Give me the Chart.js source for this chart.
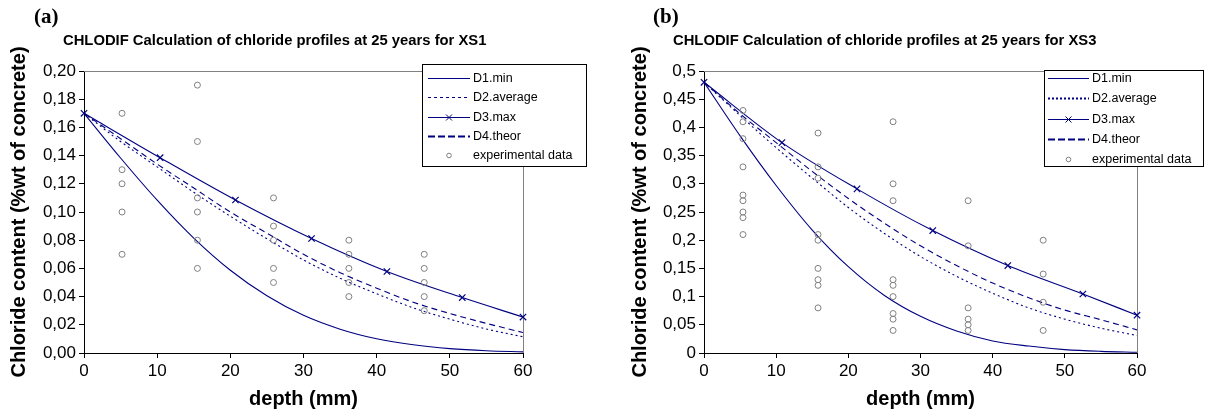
<!DOCTYPE html>
<html><head><meta charset="utf-8">
<script src="https://cdn.jsdelivr.net/npm/chart.js@4.4.1/dist/chart.umd.min.js"></script>
<style>
html,body{margin:0;padding:0;background:#fff}
body{width:1205px;height:411px;overflow:hidden;position:relative;font-family:"Liberation Sans",Arial,sans-serif}
canvas{position:absolute;top:0}
.lab{position:absolute;font-family:"Liberation Serif","Times New Roman",serif;font-weight:bold;font-size:21px;line-height:21px;color:#000}
.ttl{position:absolute;font-weight:bold;font-size:14.8px;line-height:16px;white-space:nowrap;color:#000}
</style></head><body>
<canvas id="ca" width="600" height="411" style="left:0"></canvas>
<canvas id="cb" width="605" height="411" style="left:600px"></canvas>
<div class="lab" style="left:34px;top:6px">(a)</div>
<div class="lab" style="left:653px;top:6px">(b)</div>
<div class="ttl" style="left:63px;top:32px">CHLODIF Calculation of chloride profiles at 25 years for XS1</div>
<div class="ttl" style="left:673px;top:32px">CHLODIF Calculation of chloride profiles at 25 years for XS3</div>
<script>
// ---------- data ----------
const X_TICKS = [0,10,20,30,40,50,60];
const LEGEND_LABELS = ['D1.min','D2.average','D3.max','D4.theor','experimental data'];

// (a) XS1
const A_DEPTH = [0,5,10,15,20,25,30,35,40,45,50,55,60];
const A_D1 = [0.17,0.1383,0.1084,0.0815,0.0587,0.0406,0.0267,0.0169,0.0101,0.0058,0.0031,0.0016,0.0008];
const A_D2 = [0.17,0.150,0.132,0.114,0.097,0.081,0.066,0.053,0.042,0.032,0.024,0.017,0.0115];
const A_D4 = [0.17,0.152,0.134,0.117,0.100,0.085,0.070,0.057,0.046,0.036,0.028,0.021,0.0145];
const A_D3_DEPTH = [0,10.4,20.7,31.1,41.4,51.7,60];
const A_D3 = [0.17,0.1385,0.1085,0.0812,0.0578,0.0393,0.0255];
const A_EXP_DEPTH = [5.2,5.2,5.2,5.2,5.2, 15.5,15.5,15.5,15.5,15.5,15.5, 25.9,25.9,25.9,25.9,25.9, 36.2,36.2,36.2,36.2,36.2, 46.5,46.5,46.5,46.5,46.5];
const A_EXP = [0.17,0.13,0.12,0.10,0.07, 0.19,0.15,0.11,0.10,0.08,0.06, 0.11,0.09,0.08,0.06,0.05, 0.08,0.07,0.06,0.05,0.04, 0.07,0.06,0.05,0.04,0.03];
const A_Y_MAX = 0.20, A_Y_STEP = 0.02;

// (b) XS3
const B_DEPTH = [0,5,10,15,20,25,30,35,40,45,50,55,60];
const B_D1 = [0.48,0.385,0.297,0.218,0.153,0.102,0.065,0.039,0.0214,0.0123,0.006,0.0029,0.0013];
const B_D2 = [0.48,0.421,0.364,0.310,0.258,0.212,0.171,0.136,0.106,0.080,0.060,0.044,0.031];
const B_D4 = [0.48,0.424,0.373,0.322,0.274,0.230,0.190,0.155,0.124,0.098,0.076,0.059,0.041];
const B_D3_DEPTH = [0,10.8,21.2,31.7,42.1,52.5,60];
const B_D3 = [0.48,0.373,0.291,0.217,0.155,0.1046,0.067];
const B_EXP_DEPTH = [5.4,5.4,5.4,5.4,5.4,5.4,5.4,5.4,5.4, 15.8,15.8,15.8,15.8,15.8,15.8,15.8,15.8,15.8, 26.2,26.2,26.2,26.2,26.2,26.2,26.2,26.2,26.2, 36.6,36.6,36.6,36.6,36.6,36.6, 47.0,47.0,47.0,47.0];
const B_EXP = [0.43,0.41,0.38,0.33,0.28,0.27,0.25,0.24,0.21, 0.39,0.33,0.31,0.21,0.20,0.15,0.13,0.12,0.08, 0.41,0.30,0.27,0.13,0.12,0.10,0.07,0.06,0.04, 0.27,0.19,0.08,0.06,0.05,0.04, 0.20,0.14,0.09,0.04];
const B_Y_MAX = 0.5, B_Y_STEP = 0.05;

// ---------- helpers ----------
const NAVY = '#000080';
const GRAY = '#808080';
const pts = (xs, ys) => xs.map((x,i)=>({x:x, y:ys[i]}));

function line(ctx,x0,x1,y){ ctx.beginPath(); ctx.moveTo(x0,y); ctx.lineTo(x1,y); ctx.stroke(); }

function legendPlugin(cfg){
  return {
    id:'customLegend',
    afterDraw(chart){
      const ctx = chart.ctx;
      ctx.save();
      ctx.fillStyle='#fff';
      ctx.fillRect(cfg.x, cfg.y, cfg.w, cfg.h);
      ctx.strokeStyle='#000'; ctx.lineWidth=1;
      ctx.strokeRect(cfg.x+0.5, cfg.y+0.5, cfg.w, cfg.h);
      ctx.font = '12.5px "Liberation Sans", Arial, sans-serif';
      ctx.textBaseline='middle'; ctx.fillStyle='#000';
      LEGEND_LABELS.forEach((lab,i)=>{
        const y = Math.round(cfg.rowY + i*cfg.step) + 0.5;
        const x0 = cfg.lx0, x1 = cfg.lx1;
        ctx.save();
        ctx.strokeStyle = NAVY;
        if(i===0){ ctx.lineWidth=1; line(ctx,x0,x1,y); }
        if(i===1){ ctx.lineWidth=cfg.dotW; ctx.setLineDash(cfg.dotDash); line(ctx,x0,x1,y); }
        if(i===2){ ctx.lineWidth=1; line(ctx,x0,x1,y);
          const cx=(x0+x1)/2; ctx.beginPath(); ctx.moveTo(cx-3,y-3); ctx.lineTo(cx+3,y+3); ctx.moveTo(cx+3,y-3); ctx.lineTo(cx-3,y+3); ctx.stroke(); }
        if(i===3){ ctx.lineWidth=2; ctx.setLineDash([7,3]); line(ctx,x0,x1,y); }
        if(i===4){ ctx.lineWidth=1; ctx.strokeStyle=GRAY; ctx.beginPath(); ctx.arc((x0+x1)/2, y, 2.3, 0, Math.PI*2); ctx.stroke(); }
        ctx.restore();
        ctx.fillText(lab, cfg.tx, y+0.5);
      });
      ctx.restore();
    }
  };
}

const framePlugin = {
  id:'frame',
  beforeDatasetsDraw(chart){
    const {ctx, chartArea:a} = chart;
    ctx.save();
    ctx.strokeStyle=GRAY; ctx.lineWidth=1;
    ctx.beginPath();
    ctx.moveTo(Math.round(a.left), Math.round(a.top)+0.5);
    ctx.lineTo(Math.round(a.right)+0.5, Math.round(a.top)+0.5);
    ctx.lineTo(Math.round(a.right)+0.5, Math.round(a.bottom));
    ctx.stroke();
    ctx.restore();
  }
};

function makeChart(id, o){
  const datasets = [
    {label:LEGEND_LABELS[4], data:pts(o.expX,o.exp), showLine:false, pointStyle:'circle', pointRadius:3, pointBorderColor:GRAY, pointBackgroundColor:'rgba(0,0,0,0)', pointBorderWidth:1, clip:false},
    {label:LEGEND_LABELS[0], data:pts(o.depth,o.d1), showLine:true, borderColor:NAVY, borderWidth:1.1, pointRadius:0, cubicInterpolationMode:'monotone'},
    {label:LEGEND_LABELS[1], data:pts(o.depth,o.d2), showLine:true, borderColor:NAVY, borderWidth:1.1, borderDash:[2,3], pointRadius:0, cubicInterpolationMode:'monotone'},
    {label:LEGEND_LABELS[3], data:pts(o.depth,o.d4), showLine:true, borderColor:NAVY, borderWidth:1.1, borderDash:[6,4], pointRadius:0, cubicInterpolationMode:'monotone'},
    {label:LEGEND_LABELS[2], data:pts(o.d3x,o.d3), showLine:true, borderColor:NAVY, borderWidth:1.1, cubicInterpolationMode:'monotone',
      pointStyle:'crossRot', pointRadius:4.5, pointBorderColor:NAVY, pointBorderWidth:1.2, clip:false}
  ];
  const tickFont = {family:'"Liberation Sans", Arial, sans-serif', size:17};
  const titleFont = {family:'"Liberation Sans", Arial, sans-serif', size:20, weight:'bold'};
  return new Chart(document.getElementById(id), {
    type:'scatter',
    data:{datasets},
    options:{
      responsive:false, animation:false, devicePixelRatio:1,
      layout:{padding:{left:o.padL, top:71, right:o.padR, bottom:0}},
      plugins:{legend:{display:false}, tooltip:{enabled:false}, title:{display:false}},
      scales:{
        x:{type:'linear', min:0, max:60,
          afterBuildTicks:(s)=>{ s.ticks = X_TICKS.map(v=>({value:v})); },
          afterFit:(s)=>{ s.height = 58; },
          grid:{drawOnChartArea:false, drawTicks:true, tickLength:5, color:'#000', lineWidth:1},
          border:{display:true, color:'#000', width:1},
          ticks:{font:tickFont, color:'#000', padding:3, maxRotation:0},
          title:{display:true, text:'depth (mm)', font:titleFont, color:'#000', padding:{top:0,bottom:0}}
        },
        y:{type:'linear', min:0, max:o.ymax,
          afterBuildTicks:(s)=>{ const t=[]; const n=Math.round(o.ymax/o.ystep); for(let i=0;i<=n;i++) t.push({value:+(i*o.ystep).toFixed(4)}); s.ticks=t; },
          afterFit:(s)=>{ s.width = o.yW; },
          grid:{drawOnChartArea:false, drawTicks:true, tickLength:5, color:'#000', lineWidth:1},
          border:{display:true, color:'#000', width:1},
          ticks:{font:tickFont, color:'#000', padding:3, callback:o.fmt},
          title:{display:true, text:'Chloride content (%wt of concrete)', font:titleFont, color:'#000', padding:{top:0,bottom:0}}
        }
      }
    },
    plugins:[framePlugin, legendPlugin(o.legend)]
  });
}

makeChart('ca', {
  depth:A_DEPTH, d1:A_D1, d2:A_D2, d4:A_D4, d3x:A_D3_DEPTH, d3:A_D3, expX:A_EXP_DEPTH, exp:A_EXP,
  ymax:A_Y_MAX, ystep:A_Y_STEP, fmt:(v)=>Number(v).toFixed(2).replace('.',','),
  padL:7, yW:77, padR:77,
  legend:{x:422, y:64, w:164, h:102, rowY:78, step:19.3, lx0:428, lx1:470, tx:473, dotW:1, dotDash:[3,3]}
});
makeChart('cb', {
  depth:B_DEPTH, d1:B_D1, d2:B_D2, d4:B_D4, d3x:B_D3_DEPTH, d3:B_D3, expX:B_EXP_DEPTH, exp:B_EXP,
  ymax:B_Y_MAX, ystep:B_Y_STEP, fmt:(v)=>String(Number(Number(v).toFixed(2))).replace('.',','),
  padL:28, yW:76, padR:68,
  legend:{x:444, y:70, w:159, h:96, rowY:78, step:20.3, lx0:448, lx1:489, tx:492, dotW:2, dotDash:[2,2]}
});
</script>
</body></html>
